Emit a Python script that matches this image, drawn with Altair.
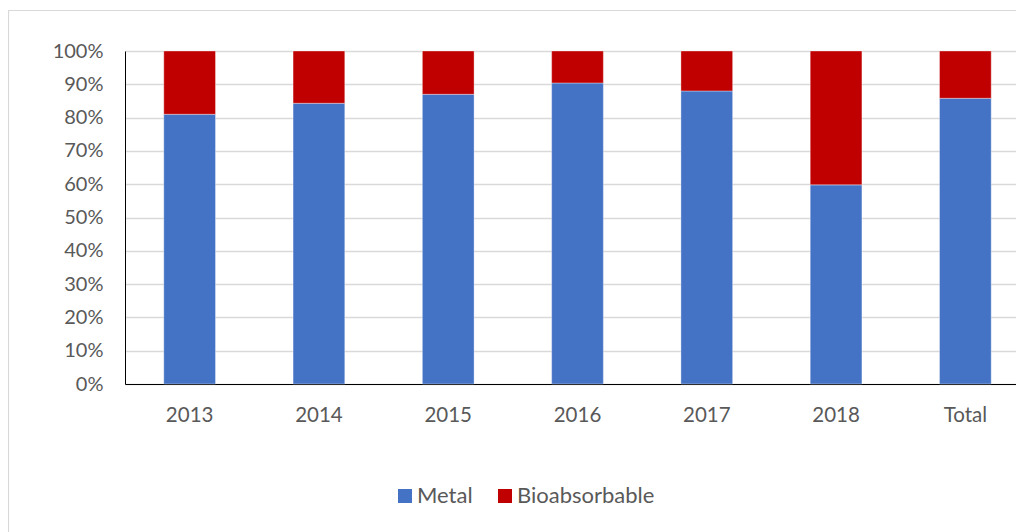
import altair as alt
import pandas as pd

years = ["2013", "2014", "2015", "2016", "2017", "2018", "Total"]
metal = [81.0, 84.3, 87.0, 90.4, 88.0, 59.8, 85.8]
bioabsorbable = [19.0, 15.7, 13.0, 9.6, 12.0, 40.2, 14.2]
series = ["Metal", "Bioabsorbable"]
colors = ["#4472C4", "#C00000"]

rows = []
for y, m, b in zip(years, metal, bioabsorbable):
    rows.append({"year": y, "type": "Metal", "value": m / 100, "ord": 0})
    rows.append({"year": y, "type": "Bioabsorbable", "value": b / 100, "ord": 1})
df = pd.DataFrame(rows)

FONT = "Lato"
GREY = "#595959"

bars = alt.Chart(df).mark_bar(stroke="#ffffff", strokeWidth=0.6, strokeOpacity=0.6).encode(
    x=alt.X("year:N", sort=years,
            scale=alt.Scale(paddingInner=0.6, paddingOuter=0.3, range=[0, 905]),
            axis=alt.Axis(title=None, labelAngle=0, ticks=False, domainColor="#000000",
                          domainWidth=1, labelPadding=21, labelFont=FONT, labelFontSize=20.5,
                          labelColor=GREY, grid=False)),
    y=alt.Y("value:Q", stack="zero",
            scale=alt.Scale(domain=[0, 1], nice=False),
            axis=alt.Axis(title=None, format=".0%", values=[i / 10 for i in range(11)],
                          ticks=False, domainColor="#000000", domainWidth=1,
                          labelPadding=22, labelFont=FONT, labelFontSize=20, labelColor=GREY,
                          gridColor="#d9d9d9", gridWidth=1.3)),
    color=alt.Color("type:N", sort=series,
                    scale=alt.Scale(domain=series, range=colors),
                    legend=alt.Legend(title=None, orient="none", direction="horizontal",
                                      legendX=269, legendY=434, symbolType="square",
                                      symbolSize=196, symbolStrokeWidth=0,
                                      labelFont=FONT, labelFontSize=22, labelColor=GREY,
                                      labelOffset=1, columnPadding=21)),
    order=alt.Order("ord:Q"),
)

frame = alt.Chart(pd.DataFrame({"a": [0]})).mark_rect(
    fill=None, stroke="#d9d9d9", strokeWidth=1.2
).encode(
    x=alt.value(-116.5), x2=alt.value(1000), y=alt.value(-40.5), y2=alt.value(600)
)

chart = alt.layer(frame, bars).properties(
    width=891, height=333,
    autosize=alt.AutoSizeParams(type="none"),
    padding={"left": 117, "top": 43, "right": 0, "bottom": 150},
).configure_view(stroke=None).configure(background="white")

chart.save("out.html", embed_options={"renderer": "svg", "actions": False})
